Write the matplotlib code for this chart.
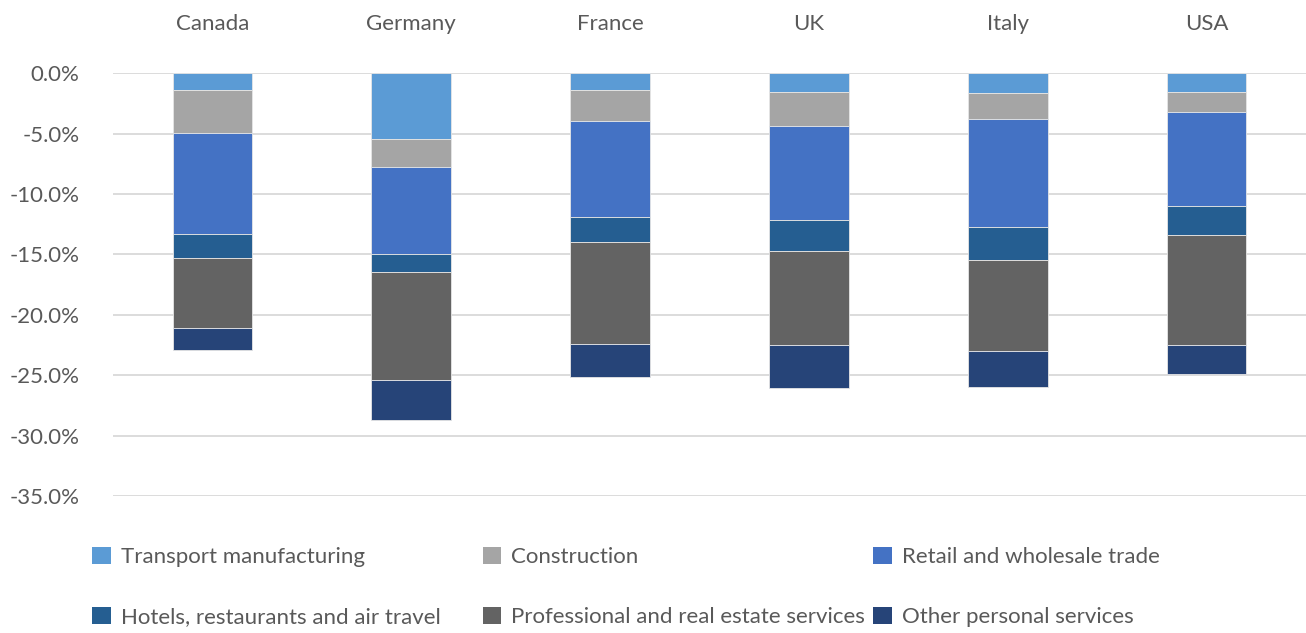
import matplotlib.pyplot as plt
import numpy as np
from matplotlib.patches import Patch
from matplotlib.ticker import FuncFormatter

plt.rcParams['font.family'] = ['Lato', 'DejaVu Sans']

countries = ["Canada", "Germany", "France", "UK", "Italy", "USA"]
sectors = ["Transport manufacturing", "Construction", "Retail and wholesale trade",
           "Hotels, restaurants and air travel", "Professional and real estate services",
           "Other personal services"]

# share of output lost, percent (negative)
transport = [-1.41, -5.46, -1.38, -1.52, -1.63, -1.52]
construction = [-3.50, -2.26, -2.53, -2.86, -2.12, -1.65]
retail = [-8.37, -7.27, -7.99, -7.77, -8.98, -7.82]
hotels = [-2.01, -1.43, -2.07, -2.56, -2.70, -2.43]
professional = [-5.79, -9.01, -8.46, -7.77, -7.55, -9.06]
other = [-1.79, -3.31, -2.70, -3.56, -2.97, -2.45]

colors = ["#5B9BD5", "#A5A5A5", "#4472C4", "#255E91", "#636363", "#264478"]
series = [transport, construction, retail, hotels, professional, other]

fig = plt.figure(figsize=(13.06, 6.33), dpi=100)
ax = fig.add_axes([0.0865, 0.2164, 0.9135, 0.6678])

x = np.arange(len(countries))
bottom = np.zeros(len(countries))
for vals, col in zip(series, colors):
    vals = np.array(vals)
    ax.bar(x, vals, 0.4, bottom=bottom, color=col, edgecolor="#e6e6e6",
           linewidth=0.6, zorder=3)
    bottom += vals

ax.set_xlim(-0.5, 5.5)
ax.set_ylim(-35, 0)
ax.set_yticks(np.arange(-35, 1, 5))
ax.yaxis.set_major_formatter(FuncFormatter(lambda v, p: f"{v:.1f}%"))
ax.grid(axis="y", color="#d9d9d9", linewidth=1.3, zorder=0)
ax.xaxis.tick_top()
ax.set_xticks(x)
ax.set_xticklabels(countries)
ax.tick_params(axis="both", length=0, labelsize=16, colors="#595959")
ax.tick_params(axis="x", pad=28)
ax.tick_params(axis="y", pad=24)
for s in ax.spines.values():
    s.set_visible(False)

# legend, placed entry by entry as in the source layout
lx = [0.062, 0.361, 0.660]
ly = [0.120, 0.0253]
for i, (name, col) in enumerate(zip(sectors, colors)):
    fig.legend(handles=[Patch(facecolor=col, label=name)],
               loc="center left", bbox_to_anchor=(lx[i % 3], ly[i // 3]),
               frameon=False, fontsize=16, handlelength=0.85, handleheight=0.85,
               handletextpad=0.45, borderpad=0, labelcolor="#595959")

fig.savefig("out.png", dpi=100)
